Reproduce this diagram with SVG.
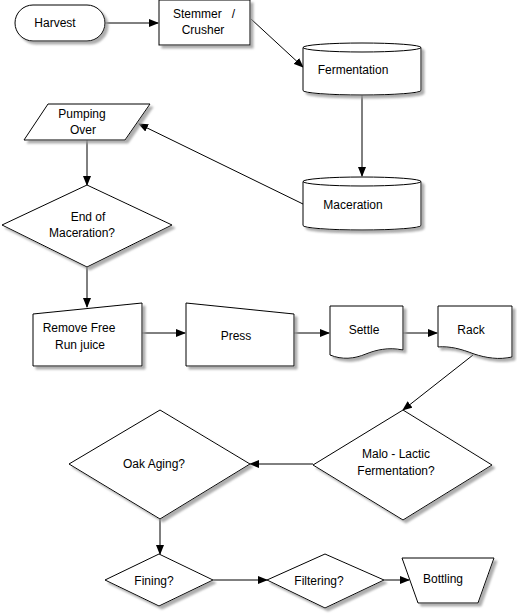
<svg xmlns="http://www.w3.org/2000/svg" width="517" height="614" viewBox="0 0 517 614">
<style>
.s{fill:#fff;stroke:#000;stroke-width:1;filter:url(#sh)}
.n{fill:none;stroke:#000;stroke-width:1}
.t{font-family:"Liberation Sans",Arial,sans-serif;font-size:12px;fill:#000;text-anchor:middle}
.c{fill:none;stroke:#000;stroke-width:1;marker-end:url(#ah)}
</style>
<defs>
<filter id="sh" x="-10%" y="-10%" width="130%" height="130%">
<feDropShadow dx="3" dy="3" stdDeviation="0.8" flood-color="#999" flood-opacity="0.8"/>
</filter>
<marker id="ah" markerWidth="10" markerHeight="8" refX="9" refY="4" orient="auto" markerUnits="userSpaceOnUse">
<path d="M0,0 L10,4 L0,8 Z" fill="#000"/>
</marker>
</defs>
<rect width="517" height="614" fill="#fff"/>
<g id="connectors">
<line class="c" x1="105" y1="23" x2="158" y2="23"/>
<line class="c" x1="251" y1="19" x2="303" y2="67"/>
<line class="c" x1="362" y1="95" x2="362" y2="176"/>
<line class="c" x1="303" y1="204" x2="139" y2="124"/>
<line class="c" x1="87" y1="140" x2="87" y2="185"/>
<line class="c" x1="87" y1="267" x2="87" y2="307"/>
<line class="c" x1="142" y1="333" x2="185" y2="333"/>
<line class="c" x1="294" y1="333" x2="329" y2="333"/>
<line class="c" x1="403" y1="333" x2="437" y2="333"/>
<line class="c" x1="473" y1="355" x2="403" y2="410"/>
<line class="c" x1="313" y1="464" x2="250" y2="464"/>
<line class="c" x1="160" y1="519" x2="160" y2="554"/>
<line class="c" x1="213" y1="580" x2="267" y2="580"/>
<line class="c" x1="384" y1="580" x2="409" y2="580"/>
</g>
<g id="harvest">
<rect class="s" x="15" y="5" width="90" height="36" rx="18" ry="18"/>
<text class="t" x="55" y="27">Harvest</text>
</g>
<g id="stemmer">
<rect class="s" x="159" y="0" width="91" height="45"/>
<text class="t" x="204" y="18" xml:space="preserve" style="white-space:pre">Stemmer   /</text>
<text class="t" x="203" y="34">Crusher</text>
</g>
<g id="fermentation">
<path class="s" d="M303,47.5 A59,4.5 0 0 1 421,47.5 V90.5 A59,4.5 0 0 1 303,90.5 Z"/>
<path class="n" d="M303,47.5 A59,4.5 0 0 0 421,47.5"/>
<text class="t" x="353" y="74">Fermentation</text>
</g>
<g id="maceration">
<path class="s" d="M303,181.5 A59,4.5 0 0 1 421,181.5 V225.5 A59,4.5 0 0 1 303,225.5 Z"/>
<path class="n" d="M303,181.5 A59,4.5 0 0 0 421,181.5"/>
<text class="t" x="353" y="209">Maceration</text>
</g>
<g id="pumping">
<polygon class="s" points="48,104 150,104 125,140 24,140"/>
<text class="t" x="82" y="118">Pumping</text>
<text class="t" x="83" y="134">Over</text>
</g>
<g id="endmac">
<polygon class="s" points="87,185 172,225 87,267 2,225"/>
<text class="t" x="88" y="221">End of</text>
<text class="t" x="82" y="237">Maceration?</text>
</g>
<g id="remove">
<polygon class="s" points="33,314 142,303 142,366 33,366"/>
<text class="t" x="79" y="332">Remove Free</text>
<text class="t" x="80" y="349">Run juice</text>
</g>
<g id="press">
<polygon class="s" points="186,303 294,314 294,366 186,366"/>
<text class="t" x="236" y="340">Press</text>
</g>
<g id="settle">
<path class="s" d="M330,306 H403 V350 C388,347 376,350 366,354 C354,359 342,360 330,355 Z"/>
<text class="t" x="364" y="334">Settle</text>
</g>
<g id="rack">
<path class="s" d="M438,306 H512 V357 C499,360 486,358 474,354 C461,349 450,346 438,347 Z"/>
<text class="t" x="471" y="334">Rack</text>
</g>
<g id="malo">
<polygon class="s" points="403,410 492,465 403,520 313,465"/>
<text class="t" x="396" y="458">Malo - Lactic</text>
<text class="t" x="396" y="475">Fermentation?</text>
</g>
<g id="oak">
<polygon class="s" points="160,410 250,464 160,519 69,464"/>
<text class="t" x="154" y="468">Oak Aging?</text>
</g>
<g id="fining">
<polygon class="s" points="159,554 213,580 159,606 105,580"/>
<text class="t" x="154" y="585">Fining?</text>
</g>
<g id="filtering">
<polygon class="s" points="325,554 384,580 325,608 267,580"/>
<text class="t" x="319" y="585">Filtering?</text>
</g>
<g id="bottling">
<polygon class="s" points="402,558 494,558 478,603 418,603"/>
<text class="t" x="443" y="583">Bottling</text>
</g>
</svg>
